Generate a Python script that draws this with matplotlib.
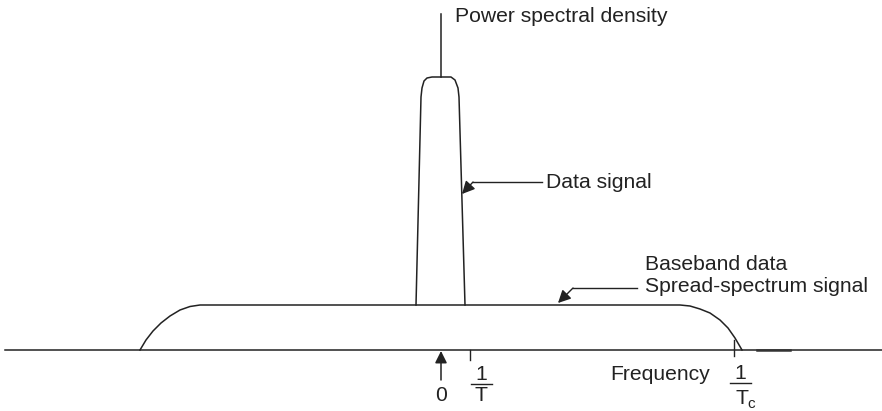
import matplotlib.pyplot as plt

plt.rcParams['font.family'] = ['Liberation Sans', 'DejaVu Sans']

# Schematic spectrum shapes (frequency offset, relative PSD level)
spread_f = [-301, -295, -288, -280, -271, -261, -251, -241, 239, 249, 259, 269, 279, 287, 294, 301]
spread_psd = [0, 10, 19, 27, 34, 40, 43.5, 45, 45, 44, 41, 37, 30, 22, 12, 0]

data_f = [-25, -20, -19, -17, -14, -9, 10, 14, 17, 18, 24]
data_psd = [45, 253, 262, 269, 272, 273, 273, 270, 262, 253, 45]

peak_f = [0, 0]
peak_psd = [273, 336]

# frequency marks
f_zero = 0
f_inv_T = 29
f_inv_Tc = 293

ink = '#222222'
fs = 15.2

fig = plt.figure(figsize=(8.82, 4.11), dpi=100)
ax = fig.add_axes([0, 0, 1, 1])
ax.set_xlim(-441, 441)
ax.set_ylim(-61, 350)
ax.axis('off')

# frequency axis
ax.plot([-436, 441], [0, 0], color=ink, lw=1.1)
ax.plot([316, 349], [0, 0], color='#333333', lw=1.8)

# spectra
ax.plot(spread_f, spread_psd, color=ink, lw=1.1)
ax.plot(data_f, data_psd, color=ink, lw=1.1)
ax.plot(peak_f, peak_psd, color=ink, lw=1.1)

# ticks
ax.plot([f_inv_T, f_inv_T], [0, -10], color=ink, lw=1.0)
ax.plot([f_inv_Tc, f_inv_Tc], [10, -6], color=ink, lw=1.0)

# arrow at zero
ax.annotate('', xy=(f_zero, -1), xytext=(f_zero, -30),
            arrowprops=dict(arrowstyle='-|>', color=ink, lw=1.1,
                            mutation_scale=18, shrinkA=0, shrinkB=0))

# labels on frequency axis
ax.text(f_zero, -45, '0', fontsize=fs, ha='center', va='center', color=ink)
ax.text(f_inv_T + 11, -24, '1', fontsize=fs, ha='center', va='center', color=ink)
ax.plot([f_inv_T + 1, f_inv_T + 22], [-34, -34], color=ink, lw=1.0)
ax.text(f_inv_T + 11, -45, 'T', fontsize=fs, ha='center', va='center', color=ink)

ax.text(f_inv_Tc + 6, -23, '1', fontsize=fs, ha='center', va='center', color=ink)
ax.plot([f_inv_Tc - 4, f_inv_Tc + 17], [-33, -33], color=ink, lw=1.0)
ax.text(f_inv_Tc + 8, -48, 'T', fontsize=fs, ha='center', va='center', color=ink)
ax.text(f_inv_Tc + 17, -54, 'c', fontsize=fs * 0.72, ha='center', va='center', color=ink)

ax.text(219, -24, 'Frequency', fontsize=fs, ha='center', va='center', color=ink)

# annotations
ax.text(14, 334, 'Power spectral density', fontsize=fs, ha='left', va='center', color=ink)

ax.plot([32, 101], [168, 168], color=ink, lw=1.0)
ax.annotate('', xy=(21, 156), xytext=(32, 168),
            arrowprops=dict(arrowstyle='-|>', color=ink, lw=1.0,
                            mutation_scale=19, shrinkA=0, shrinkB=0))
ax.text(105, 167, 'Data signal', fontsize=fs, ha='left', va='center', color=ink)

ax.plot([132, 196], [62, 62], color=ink, lw=1.0)
ax.annotate('', xy=(117, 47), xytext=(132, 62),
            arrowprops=dict(arrowstyle='-|>', color=ink, lw=1.0,
                            mutation_scale=19, shrinkA=0, shrinkB=0))
ax.text(204, 86, 'Baseband data', fontsize=fs, ha='left', va='center', color=ink)
ax.text(204, 64, 'Spread-spectrum signal', fontsize=fs, ha='left', va='center', color=ink)

fig.savefig('out.png', dpi=100)
